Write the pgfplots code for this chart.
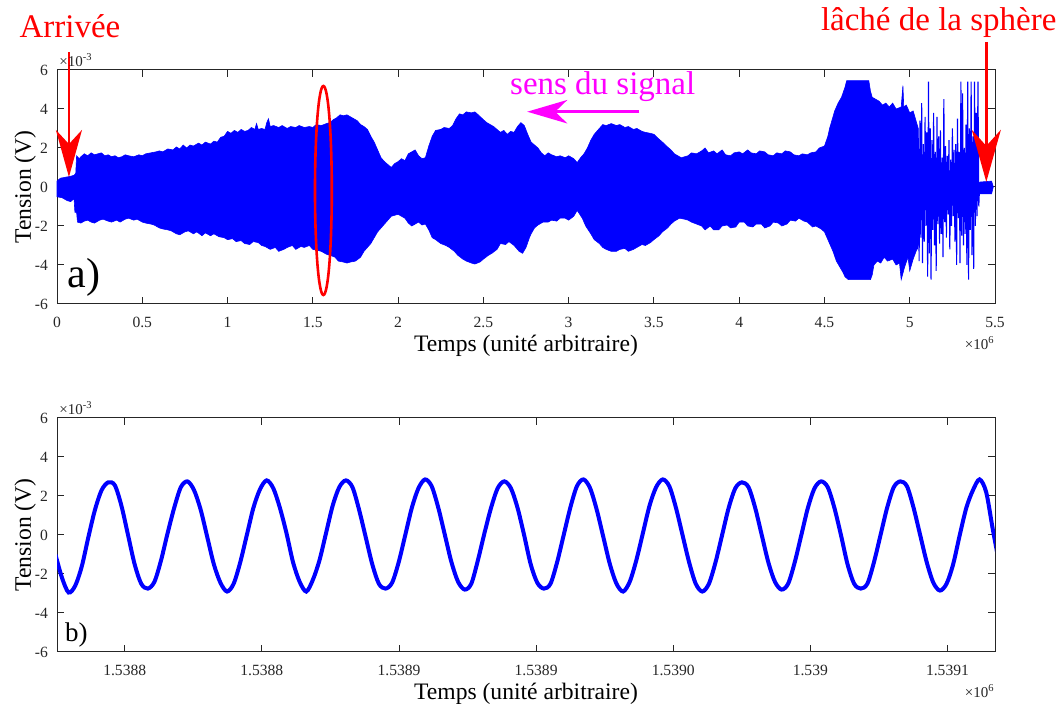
\documentclass[border=0pt]{standalone}
\usepackage{fontspec}
\setmainfont{Liberation Serif}
\usepackage{pgfplots}
\pgfplotsset{compat=1.18}
\usetikzlibrary{arrows.meta}
\definecolor{axgray}{gray}{0.15}
\definecolor{mag}{RGB}{255,0,255}
\definecolor{pureblue}{RGB}{0,0,255}
\definecolor{purered}{RGB}{255,0,0}
\begin{document}
\begin{tikzpicture}
\path[use as bounding box] (0,0) rectangle (532pt,352pt);
\pgfplotsset{mystyle/.style={
  scale only axis, width=469pt, height=117pt,
  axis line style={axgray, line width=0.5pt},
  every tick/.style={axgray, line width=0.5pt},
  tick align=inside, major tick length=3.5pt,
  xtick pos=both, ytick pos=both,
  /pgf/number format/assume math mode=true,
  tick label style={font=\fontsize{7.8}{9}\selectfont, text=axgray},
  xticklabel style={yshift=-3pt},
  yticklabel style={xshift=-1pt},
  label style={font=\fontsize{11.8}{14}\selectfont},
  xlabel style={at={([yshift=-24pt]axis description cs:0.5,0)}, anchor=base},
  ylabel style={at={([xshift=-13pt]axis description cs:0,0.5)}, anchor=base},
  xlabel={Temps (unité arbitraire)}, ylabel={Tension (V)},
  ymin=-6, ymax=6, ytick={-6,-4,-2,0,2,4,6}, yticklabels={-6,-4,-2,0,2,4,6},
  clip mode=individual,
}}
% ---------------- top axis ----------------
\begin{axis}[mystyle, at={(28.5pt,200pt)}, anchor=south west,
  xmin=0, xmax=5.5,
  xtick={0,0.5,1,1.5,2,2.5,3,3.5,4,4.5,5,5.5},
  xticklabels={0,0.5,1,1.5,2,2.5,3,3.5,4,4.5,5,5.5},
  clip=false]
\addplot[draw=pureblue, line width=0.3pt, fill=pureblue] coordinates {
(0,0.3)(0.02,0.45)(0.05,0.5)(0.08,0.55)(0.1,0.6)(0.11,0.7)(0.115,1.6)(0.13,1.45)(0.14,1.55)(0.16,1.7)(0.18,1.6)(0.2,1.75)(0.22,1.65)(0.24,1.7)(0.26,1.75)(0.28,1.6)(0.3,1.65)(0.32,1.55)(0.34,1.6)(0.36,1.5)(0.38,1.55)(0.4,1.65)(0.42,1.6)(0.45,1.55)(0.48,1.65)(0.5,1.6)(0.52,1.7)(0.55,1.75)(0.58,1.8)(0.6,1.85)(0.62,1.8)(0.65,1.95)(0.68,1.9)(0.7,2.05)(0.72,1.95)(0.74,2.15)(0.76,2.0)(0.78,2.15)(0.8,2.1)(0.83,2.25)(0.85,2.15)(0.87,2.3)(0.9,2.2)(0.92,2.35)(0.94,2.3)(0.96,2.55)(0.98,2.6)(1.0,2.85)(1.02,2.75)(1.04,2.9)(1.06,2.8)(1.08,2.95)(1.1,2.85)(1.12,2.9)(1.14,3.05)(1.16,2.95)(1.17,3.25)(1.18,2.95)(1.2,3.0)(1.22,2.95)(1.23,3.3)(1.24,3.5)(1.25,3.1)(1.27,3.15)(1.3,3.05)(1.32,3.15)(1.35,3.0)(1.37,3.1)(1.4,3.05)(1.42,3.15)(1.45,3.05)(1.48,3.1)(1.5,3.05)(1.52,3.2)(1.55,3.15)(1.58,3.25)(1.6,3.3)(1.62,3.45)(1.64,3.55)(1.66,3.7)(1.68,3.65)(1.7,3.7)(1.72,3.6)(1.74,3.5)(1.76,3.4)(1.78,3.2)(1.8,3.1)(1.82,2.95)(1.84,2.6)(1.86,2.3)(1.88,1.9)(1.9,1.5)(1.92,1.3)(1.94,1.15)(1.96,1.0)(1.98,1.2)(2.0,1.3)(2.02,1.45)(2.04,1.35)(2.06,1.7)(2.08,1.8)(2.1,1.9)(2.12,1.6)(2.14,1.45)(2.16,1.5)(2.18,2.1)(2.2,2.6)(2.22,2.9)(2.25,2.95)(2.27,3.05)(2.3,3.0)(2.32,3.15)(2.34,3.5)(2.36,3.75)(2.38,3.7)(2.4,3.85)(2.43,3.8)(2.45,3.85)(2.47,3.7)(2.5,3.45)(2.52,3.3)(2.54,3.2)(2.56,3.1)(2.58,2.95)(2.6,2.8)(2.62,2.9)(2.64,2.7)(2.66,2.85)(2.68,2.8)(2.7,3.1)(2.72,3.3)(2.74,3.15)(2.76,2.7)(2.78,2.3)(2.8,2.15)(2.82,2.0)(2.84,1.75)(2.86,1.6)(2.88,1.75)(2.9,1.65)(2.93,1.55)(2.95,1.6)(2.98,1.5)(3.0,1.6)(3.03,1.45)(3.05,1.25)(3.07,1.5)(3.09,1.7)(3.11,2.0)(3.13,2.4)(3.15,2.7)(3.17,2.9)(3.2,3.2)(3.22,3.15)(3.25,3.25)(3.28,3.15)(3.3,3.2)(3.33,3.05)(3.35,3.1)(3.38,2.95)(3.4,3.0)(3.43,2.85)(3.45,2.8)(3.48,2.75)(3.5,2.7)(3.53,2.45)(3.55,2.3)(3.58,2.05)(3.6,1.9)(3.62,1.7)(3.64,1.6)(3.66,1.5)(3.68,1.55)(3.7,1.6)(3.72,1.75)(3.75,1.7)(3.78,1.85)(3.8,2.0)(3.82,1.75)(3.85,1.85)(3.87,1.7)(3.9,1.9)(3.92,1.65)(3.95,1.6)(3.97,1.75)(4.0,1.8)(4.02,1.7)(4.05,1.9)(4.07,1.75)(4.1,1.7)(4.12,1.85)(4.15,1.8)(4.17,1.65)(4.2,1.6)(4.22,1.75)(4.25,1.7)(4.27,1.85)(4.3,1.8)(4.32,1.65)(4.35,1.6)(4.37,1.7)(4.4,1.65)(4.42,1.75)(4.45,1.8)(4.47,2.0)(4.5,2.1)(4.52,2.6)(4.53,3.0)(4.55,3.6)(4.56,3.9)(4.58,4.3)(4.6,4.6)(4.62,5.1)(4.63,5.45)(4.76,5.45)(4.77,4.9)(4.78,4.6)(4.8,4.5)(4.82,4.4)(4.84,4.2)(4.86,4.3)(4.88,4.1)(4.9,4.3)(4.92,4.0)(4.95,4.1)(4.96,5.2)(4.965,4.1)(4.98,4.2)(5.0,3.8)(5.02,3.9)(5.05,3.0)
(5.05,-3.0)(5.02,-3.7)(5.0,-4.3)(4.99,-3.6)(4.97,-4.1)(4.95,-4.75)(4.94,-3.9)(4.92,-4.0)(4.9,-3.7)(4.87,-3.8)(4.85,-3.6)(4.83,-3.9)(4.81,-3.8)(4.79,-4.0)(4.78,-4.5)(4.77,-4.75)(4.64,-4.75)(4.62,-4.6)(4.61,-4.4)(4.59,-4.1)(4.57,-3.8)(4.55,-3.3)(4.53,-2.9)(4.51,-2.5)(4.5,-2.3)(4.48,-2.15)(4.45,-2.0)(4.43,-2.05)(4.4,-1.8)(4.38,-1.75)(4.35,-1.6)(4.33,-1.75)(4.3,-1.7)(4.28,-1.9)(4.25,-2.0)(4.23,-1.85)(4.2,-1.8)(4.18,-2.0)(4.15,-2.1)(4.13,-1.9)(4.1,-1.9)(4.08,-2.05)(4.05,-2.0)(4.03,-1.8)(4.0,-1.8)(3.98,-2.05)(3.95,-2.1)(3.93,-1.95)(3.9,-2.0)(3.88,-2.2)(3.85,-2.2)(3.83,-2.0)(3.8,-2.2)(3.78,-2.0)(3.75,-1.9)(3.72,-1.8)(3.7,-1.7)(3.68,-1.65)(3.65,-1.6)(3.62,-1.75)(3.6,-1.9)(3.58,-2.1)(3.55,-2.3)(3.53,-2.5)(3.5,-2.7)(3.48,-2.85)(3.45,-3.0)(3.43,-2.95)(3.4,-3.1)(3.38,-3.2)(3.35,-3.3)(3.33,-3.15)(3.3,-3.2)(3.28,-3.3)(3.25,-3.3)(3.22,-3.2)(3.2,-3.1)(3.18,-2.9)(3.15,-2.7)(3.13,-2.4)(3.1,-2.0)(3.08,-1.6)(3.05,-1.2)(3.03,-1.5)(3.0,-1.7)(2.98,-1.6)(2.95,-1.6)(2.93,-1.75)(2.9,-1.7)(2.88,-1.8)(2.85,-1.8)(2.82,-1.95)(2.8,-2.1)(2.78,-2.4)(2.77,-2.6)(2.75,-3.1)(2.73,-3.4)(2.71,-3.3)(2.7,-3.2)(2.68,-3.0)(2.65,-2.8)(2.63,-2.95)(2.6,-2.9)(2.58,-3.2)(2.55,-3.4)(2.53,-3.5)(2.5,-3.7)(2.48,-3.85)(2.45,-3.95)(2.43,-3.9)(2.4,-3.8)(2.38,-3.7)(2.35,-3.5)(2.33,-3.3)(2.3,-3.1)(2.28,-3.0)(2.25,-2.9)(2.22,-2.7)(2.2,-2.6)(2.18,-2.2)(2.16,-1.9)(2.14,-1.95)(2.12,-1.8)(2.1,-1.9)(2.08,-2.0)(2.06,-1.85)(2.04,-1.6)(2.02,-1.5)(2.0,-1.4)(1.98,-1.45)(1.96,-1.5)(1.94,-1.7)(1.92,-1.9)(1.9,-2.1)(1.88,-2.3)(1.86,-2.6)(1.84,-2.9)(1.82,-3.1)(1.8,-3.3)(1.78,-3.6)(1.75,-3.8)(1.72,-3.85)(1.7,-3.9)(1.68,-3.85)(1.65,-3.8)(1.63,-3.6)(1.6,-3.5)(1.58,-3.45)(1.55,-3.3)(1.53,-3.25)(1.5,-3.2)(1.48,-3.0)(1.45,-3.1)(1.43,-3.05)(1.4,-3.2)(1.38,-3.0)(1.35,-3.1)(1.33,-3.2)(1.3,-3.3)(1.28,-3.1)(1.25,-3.2)(1.22,-3.05)(1.2,-3.0)(1.18,-2.85)(1.15,-2.8)(1.13,-2.95)(1.1,-2.9)(1.08,-2.75)(1.05,-2.8)(1.03,-2.65)(1.0,-2.7)(0.98,-2.6)(0.95,-2.55)(0.92,-2.4)(0.9,-2.5)(0.87,-2.35)(0.85,-2.5)(0.82,-2.3)(0.8,-2.4)(0.77,-2.25)(0.75,-2.3)(0.72,-2.45)(0.7,-2.4)(0.67,-2.25)(0.65,-2.2)(0.62,-2.15)(0.6,-2.1)(0.57,-1.95)(0.55,-1.9)(0.52,-1.85)(0.5,-1.8)(0.47,-1.65)(0.45,-1.7)(0.42,-1.6)(0.4,-1.65)(0.37,-1.8)(0.35,-1.7)(0.32,-1.8)(0.3,-1.75)(0.27,-1.65)(0.25,-1.7)(0.22,-1.85)(0.2,-1.8)(0.18,-1.7)(0.16,-1.75)(0.14,-1.85)(0.12,-1.8)(0.115,-1.3)(0.105,-1.3)(0.1,-0.6)(0.08,-0.75)(0.06,-0.7)(0.03,-0.55)(0,-0.5)
} -- cycle;
\addplot[pureblue, line width=0.55pt] coordinates {
(5.040,3.0) (5.045,-3.2) (5.050,2.5) (5.055,-3.8) (5.060,3.4) (5.065,-2.6) (5.070,4.3) (5.075,-3.9) (5.080,2.2) (5.085,-2.8) (5.090,3.6) (5.095,-2.0) (5.100,2.8) (5.105,-4.6) (5.110,5.4) (5.115,-3.4) (5.120,3.0) (5.125,-4.75) (5.130,2.4) (5.135,-2.2) (5.140,3.8) (5.145,-3.0) (5.150,1.8) (5.155,-4.3) (5.160,3.6) (5.165,-1.9) (5.170,2.6) (5.175,-2.9) (5.180,2.9) (5.185,-2.4) (5.190,1.5) (5.195,-3.6) (5.200,4.5) (5.205,-1.8) (5.210,2.1) (5.215,-2.6) (5.220,1.6) (5.225,-1.4) (5.230,2.4) (5.235,-3.2) (5.240,1.4) (5.245,-2.0) (5.250,3.0) (5.255,-1.5) (5.260,1.9) (5.265,-2.8) (5.270,2.2) (5.275,-4.0) (5.280,3.5) (5.285,-1.6) (5.290,1.8) (5.295,-3.9) (5.300,5.4) (5.305,-2.5) (5.310,4.8) (5.315,-3.0) (5.320,2.0) (5.325,-2.4) (5.330,3.2) (5.335,-4.0) (5.340,5.4) (5.345,-4.75) (5.350,3.0) (5.355,-2.2) (5.360,5.4) (5.365,-3.5) (5.370,2.6) (5.375,-4.2) (5.380,5.4) (5.385,-2.0) (5.390,3.8) (5.395,-1.5) (5.400,5.4) (5.405,-1.0) (5.410,0.2)
};
\addplot[draw=pureblue, line width=0.3pt, fill=pureblue] coordinates {(5.408,0.25) (5.48,0.3) (5.49,0) (5.48,-0.35) (5.408,-0.35)} -- cycle;
% annotations
\node[text=purered, font=\fontsize{16.5}{18}\selectfont, anchor=base] at (axis cs:0.076,7.68) {Arrivée};
\draw[purered, line width=1.35pt, -{Stealth[length=23.5pt, width=13pt, inset=7pt]}] (axis cs:0.070,6.92) -- (axis cs:0.070,0.51);
\node[text=purered, font=\fontsize{16.5}{18}\selectfont, anchor=base] at (axis cs:5.17,8.0) {lâché de la sphère};
\draw[purered, line width=1.35pt, -{Stealth[length=26pt, width=14.5pt, inset=8pt]}] (axis cs:5.449,7.44) -- (axis cs:5.449,0.26);
\node[text=mag, font=\fontsize{16.5}{18}\selectfont, anchor=base] at (axis cs:3.20,4.75) {sens du signal};
\draw[mag, line width=1.6pt, -{Stealth[length=20pt, width=11.7pt, inset=6pt]}] (axis cs:3.414,3.86) -- (axis cs:2.757,3.86);
\draw[purered, line width=1.3pt] (axis cs:1.562,-0.18) ellipse [x radius=4.2pt, y radius=52.25pt];
\node[anchor=base west, inner sep=0pt, font=\fontsize{21}{24}\selectfont] at (axis cs:0.06,-5.18) {a)};
\node[anchor=base west, inner sep=0pt, font=\fontsize{7.5}{9}\selectfont, text=axgray] at ([xshift=1pt,yshift=1.5pt]rel axis cs:0,1) {×10\textsuperscript{-3}};
\node[anchor=base east, inner sep=0pt, font=\fontsize{7.5}{9}\selectfont, text=axgray] at ([yshift=-23pt]rel axis cs:1,0) {×10\textsuperscript{6}};
\end{axis}
% ---------------- bottom axis ----------------
\begin{axis}[mystyle, at={(28.5pt,26pt)}, anchor=south west,
  xmin=0.24, xmax=142.34,
  xtick={10.50,31.27,52.05,72.82,93.59,114.36,135.14},
  xticklabels={1.5388,1.5388,1.5389,1.5389,1.5390,1.539,1.5391}]
\addplot[pureblue, line width=2pt, smooth] coordinates {
(0,-1.0) (1,-2.2) (2,-2.95) (3,-2.6) (4,-1.6) (5,-0.1) (6,1.3) (7,2.3) (8,2.7) (9,2.55) (10,1.5) (11,0.0)
(12,-1.5) (13,-2.5) (14,-2.75) (15,-2.4) (16,-1.3) (17,0.1) (18,1.4) (19,2.45) (20,2.75) (21,2.3) (22,1.3) (23,-0.1)
(24,-1.5) (25,-2.45) (26,-2.9) (27,-2.5) (28,-1.4) (29,0.0) (30,1.4) (31,2.35) (32,2.8) (33,2.4) (34,1.4) (35,0.1)
(36,-1.4) (37,-2.4) (38,-2.9) (39,-2.3) (40,-1.3) (41,0.1) (42,1.5) (43,2.45) (44,2.8) (45,2.45) (46,1.3) (47,-0.1)
(48,-1.5) (49,-2.5) (50,-2.75) (51,-2.45) (52,-1.4) (53,0.0) (54,1.4) (55,2.4) (56,2.85) (57,2.5) (58,1.4) (59,0.0)
(60,-1.4) (61,-2.4) (62,-2.8) (63,-2.5) (64,-1.3) (65,0.1) (66,1.4) (67,2.4) (68,2.75) (69,2.4) (70,1.4) (71,0.0)
(72,-1.5) (73,-2.45) (74,-2.75) (75,-2.5) (76,-1.4) (77,0.0) (78,1.4) (79,2.5) (80,2.85) (81,2.4) (82,1.3) (83,-0.1)
(84,-1.5) (85,-2.5) (86,-2.9) (87,-2.4) (88,-1.3) (89,0.1) (90,1.5) (91,2.45) (92,2.85) (93,2.5) (94,1.4) (95,0.0)
(96,-1.4) (97,-2.5) (98,-2.9) (99,-2.5) (100,-1.4) (101,0.0) (102,1.4) (103,2.4) (104,2.7) (105,2.45) (106,1.4) (107,0.0)
(108,-1.4) (109,-2.4) (110,-2.8) (111,-2.5) (112,-1.4) (113,0.0) (114,1.4) (115,2.4) (116,2.75) (117,2.45) (118,1.4) (119,0.0)
(120,-1.5) (121,-2.5) (122,-2.75) (123,-2.5) (124,-1.4) (125,0.0) (126,1.4) (127,2.45) (128,2.75) (129,2.5) (130,1.4) (131,0.0)
(132,-1.4) (133,-2.45) (134,-2.85) (135,-2.5) (136,-1.5) (137,0.0) (138,1.4) (139,2.3) (140,2.85) (141,2.2) (142,0.3) (143,-1.5)
};
\node[anchor=base west, inner sep=0pt, font=\fontsize{13.5}{16}\selectfont] at (axis cs:1.4,-5.44) {b)};
\node[anchor=base west, inner sep=0pt, font=\fontsize{7.5}{9}\selectfont, text=axgray] at ([xshift=1pt,yshift=1.5pt]rel axis cs:0,1) {×10\textsuperscript{-3}};
\node[anchor=base east, inner sep=0pt, font=\fontsize{7.5}{9}\selectfont, text=axgray] at ([yshift=-23pt]rel axis cs:1,0) {×10\textsuperscript{6}};
\end{axis}
\end{tikzpicture}
\end{document}
